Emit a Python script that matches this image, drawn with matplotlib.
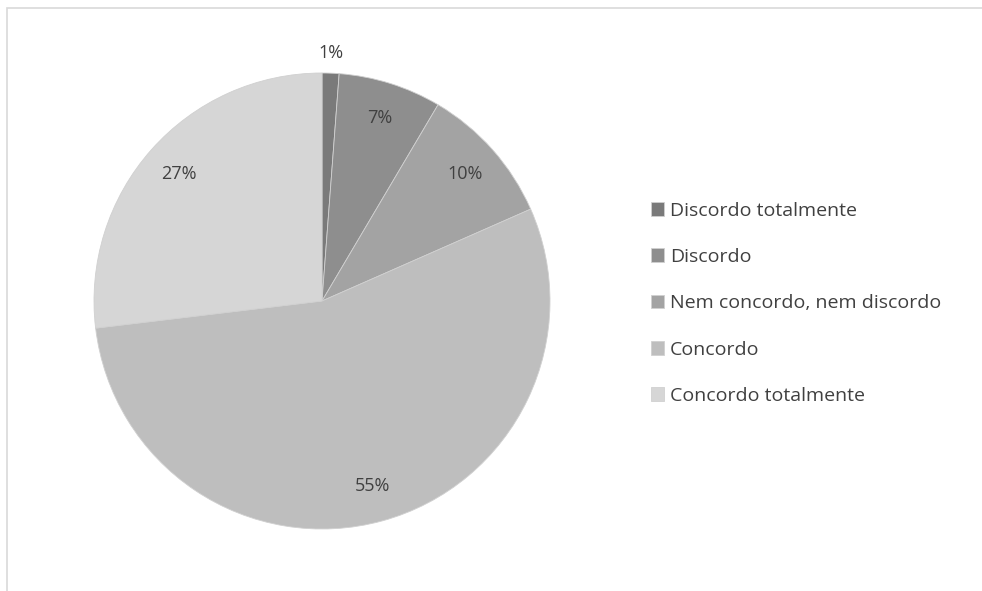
import numpy as np
import matplotlib.pyplot as plt
from matplotlib.patches import Rectangle

# Dados do gráfico (ângulos; rótulos arredondados)
categorias = ["Discordo totalmente", "Discordo", "Nem concordo, nem discordo",
              "Concordo", "Concordo totalmente"]
valores = [1.2, 7.3, 9.9, 54.7, 26.9]
cores = ["#7a7a7a", "#8e8e8e", "#a3a3a3", "#bebebe", "#d6d6d6"]

plt.rcParams['font.family'] = ['Open Sans', 'DejaVu Sans']
cor_texto = "#404040"

fig = plt.figure(figsize=(9.82, 5.91), dpi=100)

# moldura cinza clara (começa perto do canto superior esquerdo)
fig.patches.append(Rectangle((7 / 982, -0.05), 1.1, 1 - 8 / 591 + 0.05,
                             transform=fig.transFigure, fill=False,
                             edgecolor="#d9d9d9", linewidth=1.2))

ax = fig.add_axes([94 / 982, (591 - 529) / 591, 456 / 982, 456 / 591])
fatias, _ = ax.pie(valores, colors=cores, startangle=90, counterclock=False,
                   radius=1, wedgeprops=dict(linewidth=0.6, edgecolor="#d0d0d0"))
ax.set_xlim(-1, 1)
ax.set_ylim(-1, 1)
ax.set_aspect("equal")
ax.axis("off")

# rótulos de porcentagem
for fatia, v in zip(fatias, valores):
    ang = np.deg2rad((fatia.theta1 + fatia.theta2) / 2)
    dist = 1.09 if v < 3 else 0.84
    ax.text(dist * np.cos(ang), dist * np.sin(ang), f"{round(v)}%", ha="center",
            va="center", fontsize=13, color=cor_texto)

leg = fig.legend(fatias, categorias, loc="upper left",
                 bbox_to_anchor=(633 / 982, 1 - 184 / 591), frameon=False,
                 fontsize=14, labelcolor=cor_texto, handlelength=0.7,
                 handleheight=0.7, handletextpad=0.3, labelspacing=1.46)

fig.savefig("out.png", dpi=100)
